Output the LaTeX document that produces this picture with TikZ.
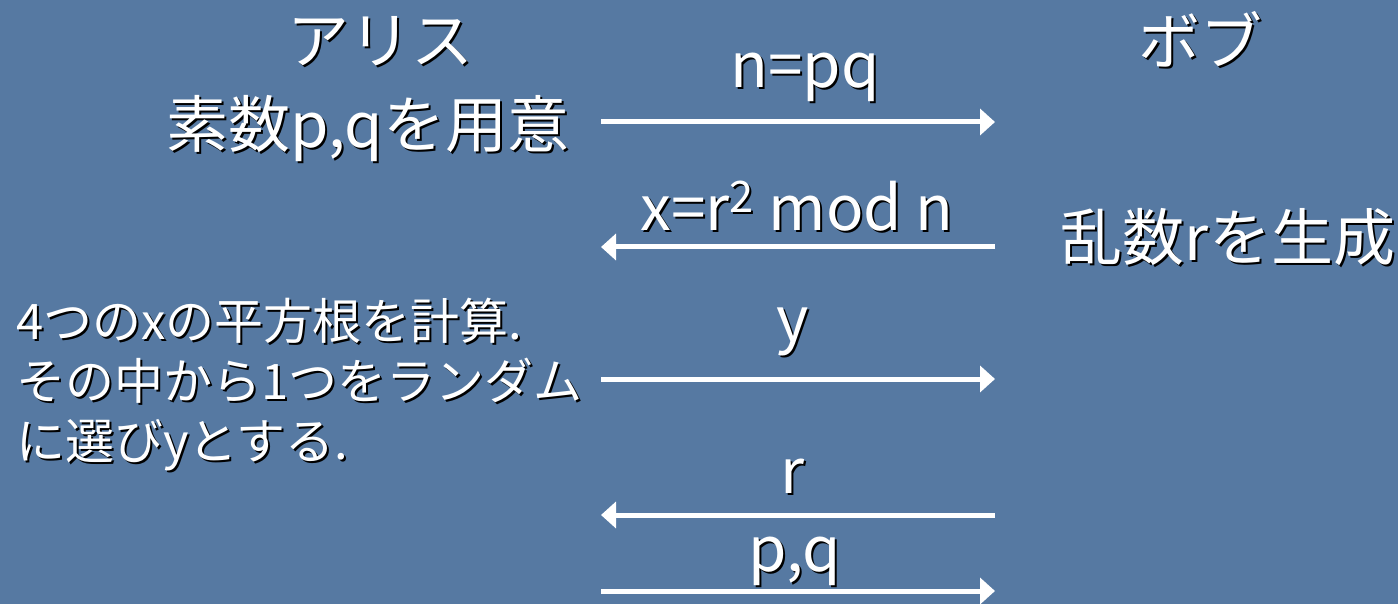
\documentclass[tikz,border=0pt]{standalone}
\usepackage{fontspec}
\setmainfont{Noto Sans CJK JP}
\usetikzlibrary{arrows.meta}
\definecolor{bg}{RGB}{86,121,162}
\newcommand{\shd}[1]{\makebox[0pt][l]{\kern1pt\raisebox{-1pt}{\color{black}#1}}#1}
\tikzset{
  lbl/.style={text=white, inner sep=0pt, font=\fontsize{31}{36}\selectfont},
  small/.style={text=white, inner sep=0pt, font=\fontsize{24.5}{30}\selectfont, align=left},
  msg/.style={white, line width=2.5pt, -{Triangle[length=7.5pt,width=13pt]}},
}
\begin{document}
\begin{tikzpicture}[x=0.5pt,y=-0.5pt]
\fill[bg] (0,0) rectangle (1398,604);
\useasboundingbox (0,0) rectangle (1398,604);
% endpoints
\coordinate (a1l) at (601,122); \coordinate (a1r) at (995,122);
\coordinate (a2l) at (601,247); \coordinate (a2r) at (995,247);
\coordinate (a3l) at (601,379); \coordinate (a3r) at (995,379);
\coordinate (a4l) at (601,515); \coordinate (a4r) at (995,515);
\coordinate (a5l) at (601,591); \coordinate (a5r) at (995,591);
% texts
\node[lbl] (alice) at (380,42) {\shd{アリス}};
\node[lbl] (bob) at (1200,40) {\shd{ボブ}};
\node[lbl] (prep) at (368,130) {\shd{素数p,qを用意}};
\node[lbl] (rand) at (1228,238) {\shd{乱数rを生成}};
\node[lbl] (m1) at (805,78) {\shd{n=pq}};
\node[lbl] (m2) at (797,207) {\shd{x=r\textsuperscript{2} mod n}};
\node[lbl] (m3) at (793,333) {\shd{y}};
\node[lbl] (m4) at (793,477) {\shd{r}};
\node[lbl] (m5) at (795,562) {\shd{p,q}};
\node[small, anchor=west] (calc) at (16,386) {\shd{4つのxの平方根を計算.}\\\shd{その中から1つをランダム}\\\shd{に選びyとする.}};
% arrows
\draw[msg] (a1l) -- (a1r);
\draw[msg] (a2r) -- (a2l);
\draw[msg] (a3l) -- (a3r);
\draw[msg] (a4r) -- (a4l);
\draw[msg] (a5l) -- (a5r);
\end{tikzpicture}
\end{document}
